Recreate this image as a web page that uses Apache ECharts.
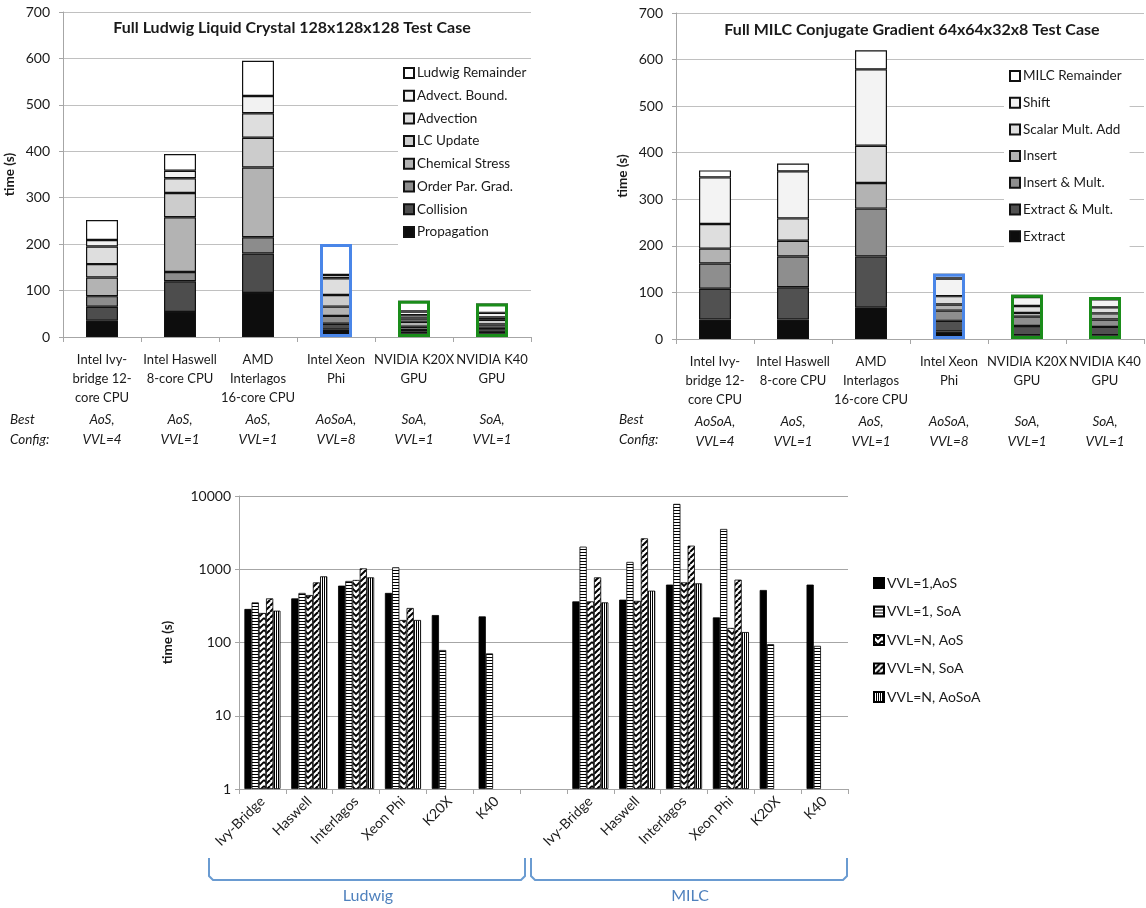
<!DOCTYPE html>
<html><head><meta charset="utf-8">
<script src="https://cdn.jsdelivr.net/npm/echarts/dist/echarts.min.js"></script>
<style>html,body{margin:0;padding:0;background:#fff}#c{width:1146px;height:908px}</style>
</head><body><div id="c"></div>
<script>
// ---------- DATA ----------
const topCategories = ['Intel Ivy-\nbridge 12-\ncore CPU','Intel Haswell\n8-core CPU','AMD\nInterlagos\n16-core CPU','Intel Xeon\nPhi','NVIDIA K20X\nGPU','NVIDIA K40\nGPU'];
const ludwigConfig = ['AoS,\nVVL=4','AoS,\nVVL=1','AoS,\nVVL=1','AoSoA,\nVVL=8','SoA,\nVVL=1','SoA,\nVVL=1'];
const milcConfig = ['AoSoA,\nVVL=4','AoS,\nVVL=1','AoS,\nVVL=1','AoSoA,\nVVL=8','SoA,\nVVL=1','SoA,\nVVL=1'];
const topTicks = [0,100,200,300,400,500,600,700];

// Ludwig components (bottom to top)
const propagation     = [35, 54, 95, 16.5, 8, 8];
const collision       = [30, 66, 85, 12, 7, 6];
const orderParGrad    = [23, 20, 35, 17, 7, 6];
const chemicalStress  = [40, 118, 150, 20, 11, 7];
const lcUpdate        = [29, 52, 64, 25, 7, 10];
const advection       = [38, 32, 53, 36, 7, 5];
const advectBound     = [14, 16, 37, 7, 8, 10];
const ludwigRemainder = [43, 36, 76, 67, 23, 20];

// MILC components (bottom to top)
const extract         = [42, 42, 68, 16, 8, 8];
const extractMult     = [66, 69, 109, 23, 20, 18];
const insertMult      = [54, 66, 103, 22, 20, 16];
const insert          = [32, 34, 55, 13, 8, 13];
const scalarMultAdd   = [53, 48, 80, 18, 15, 13];
const shift           = [100, 101, 164, 38, 19, 17];
const milcRemainder   = [15, 17, 41, 10, 5, 5];

// Bottom log chart
const logCategories = ['Ivy-Bridge','Haswell','Interlagos','Xeon Phi','K20X','K40','','Ivy-Bridge','Haswell','Interlagos','Xeon Phi','K20X','K40'];
const vvl1AoS   = [287, 400, 597, 475, 237, 227, null, 364, 384, 617, 220, 521, 617];
const vvl1SoA   = [353, 475, 692, 1062, 79, 71, null, 2036, 1259, 7800, 3550, 95, 90];
const vvlNAoS   = [253, 445, 714, 203, null, null, null, 364, 370, 662, 158, null, null];
const vvlNSoA   = [400, 662, 1028, 296, null, null, null, 775, 2642, 2100, 721, null, null];
const vvlNAoSoA = [272, 800, 775, 203, null, null, null, 353, 510, 642, 139, null, null];
const logTicks = [1, 10, 100, 1000, 10000];

// ---------- STYLE ----------
const FONT = 'Lato, "Liberation Sans", sans-serif';
const TXT = '#1a1a1a';
const GRID = '#c0c0c0';
const ludwigNames = ['Propagation','Collision','Order Par. Grad.','Chemical Stress','LC Update','Advection','Advect. Bound.','Ludwig Remainder'];
const ludwigSets  = [propagation, collision, orderParGrad, chemicalStress, lcUpdate, advection, advectBound, ludwigRemainder];
const ludwigColors = ['#0d0d0d','#4d4d4d','#8c8c8c','#b3b3b3','#cccccc','#dedede','#f2f2f2','#ffffff'];
const milcNames = ['Extract','Extract & Mult.','Insert & Mult.','Insert','Scalar Mult. Add','Shift','MILC Remainder'];
const milcSets  = [extract, extractMult, insertMult, insert, scalarMultAdd, shift, milcRemainder];
const milcColors = ['#0d0d0d','#515151','#8e8e8e','#b3b3b3','#dedede','#f3f3f3','#ffffff'];
const outlineColors = [null, null, null, '#4a86e8', '#1a8c1a', '#1a8c1a'];
const vvlNames = ['VVL=1,AoS','VVL=1, SoA','VVL=N, AoS','VVL=N, SoA','VVL=N, AoSoA'];
const vvlSets = [vvl1AoS, vvl1SoA, vvlNAoS, vvlNSoA, vvlNAoSoA];

function pattern(w, h, draw) {
  const c = document.createElement('canvas'); c.width = w; c.height = h;
  const g = c.getContext('2d'); g.fillStyle = '#fff'; g.fillRect(0, 0, w, h);
  g.strokeStyle = '#000'; g.fillStyle = '#000'; draw(g);
  return { image: c, repeat: 'repeat' };
}
const patHoriz = pattern(4, 3, g => { g.fillRect(0, 0, 4, 1); });
const patChevron = pattern(8, 6, g => {
  g.lineWidth = 1.8;
  [-6, 0, 6].forEach(o => { g.beginPath(); g.moveTo(0, o); g.lineTo(4, o + 4); g.lineTo(8, o); g.stroke(); });
});
const patDiag = pattern(6, 6, g => {
  g.lineWidth = 2;
  [-6, 0, 6].forEach(o => { g.beginPath(); g.moveTo(o, 6); g.lineTo(o + 6, 0); g.stroke(); });
});
const patVert = pattern(2, 2, g => { g.fillRect(0, 0, 1, 2); });
const vvlFills = ['#000', patHoriz, patChevron, patDiag, patVert];

function sumAt(sets, i) { return sets.reduce((s, a) => s + a[i], 0); }

function valueAxis(gridIndex) {
  return {
    type: 'value', gridIndex, min: 0, max: 700, interval: 100,
    name: 'time (s)', nameLocation: 'middle', nameGap: 46,
    nameTextStyle: { fontFamily: FONT, fontSize: 13.5, fontWeight: 'bold', color: TXT },
    axisLine: { show: true, lineStyle: { color: '#a6a6a6' } },
    axisTick: { show: true, length: 4, lineStyle: { color: '#a6a6a6' } },
    axisLabel: { fontFamily: FONT, fontSize: 14, color: TXT, margin: 13 },
    splitLine: { show: true, lineStyle: { color: GRID, width: 1.2 } }
  };
}
function catAxis(gridIndex, data) {
  return {
    type: 'category', gridIndex, data,
    axisLine: { show: true, lineStyle: { color: '#a6a6a6' } },
    axisTick: { show: true, length: 5, alignWithLabel: false, lineStyle: { color: '#a6a6a6' } },
    axisLabel: { interval: 0, fontFamily: FONT, fontSize: 13, color: TXT, lineHeight: 19, margin: 13 },
    splitLine: { show: false }
  };
}
function cfgAxis(gridIndex, data) {
  return {
    type: 'category', gridIndex, data, position: 'bottom', offset: 63,
    axisLine: { show: false }, axisTick: { show: false }, splitLine: { show: false },
    axisLabel: { interval: 0, fontFamily: FONT, fontSize: 13.5, fontStyle: 'italic', color: TXT, lineHeight: 20, margin: 10 }
  };
}
function stackSeries(names, sets, colors, axisIdx, yIdx, stackId) {
  const out = names.map((n, k) => ({
    type: 'bar', name: n, stack: stackId, xAxisIndex: axisIdx, yAxisIndex: yIdx,
    data: sets[k], barWidth: 32,
    itemStyle: { color: colors[k], borderColor: '#111', borderWidth: 1.2 },
    emphasis: { disabled: true }, silent: true
  }));
  out.push({
    type: 'bar', name: stackId + '-outline', xAxisIndex: axisIdx, yAxisIndex: yIdx,
    barWidth: 32, barGap: '-100%', z: 5,
    data: topCategories.map((c, i) => outlineColors[i] ? { value: sumAt(sets, i), itemStyle: { borderColor: outlineColors[i] } } : null),
    itemStyle: { color: 'rgba(0,0,0,0)', borderWidth: 3 },
    emphasis: { disabled: true }, silent: true
  });
  return out;
}
function legendOf(names, left, top, gap, size) {
  return {
    data: names, orient: 'vertical', left, top, itemGap: gap,
    itemWidth: 10, itemHeight: 10, icon: 'rect', backgroundColor: '#fff',
    padding: [5, 8, 5, 5], selectedMode: false,
    textStyle: { fontFamily: FONT, fontSize: size, color: TXT, lineHeight: 16, padding: [0, 0, 0, -2] }
  };
}

const series = []
  .concat(stackSeries(ludwigNames, ludwigSets, ludwigColors, 0, 0, 'L'))
  .concat(stackSeries(milcNames, milcSets, milcColors, 2, 1, 'M'))
  .concat(vvlNames.map((n, k) => ({
    type: 'bar', name: n, xAxisIndex: 4, yAxisIndex: 2, data: vvlSets[k],
    barGap: '0%', barCategoryGap: '23%',
    itemStyle: { color: vvlFills[k], borderColor: '#000', borderWidth: 0.8 },
    emphasis: { disabled: true }, silent: true
  })));

const bracketStyle = { stroke: '#6a9bd1', lineWidth: 2, fill: null };
const option = {
  animation: false,
  backgroundColor: '#fff',
  grid: [
    { left: 63, right: 615, top: 12, bottom: 571, outerBoundsMode: 'none', containLabel: false },
    { left: 676, right: 2, top: 13, bottom: 569, outerBoundsMode: 'none', containLabel: false },
    { left: 239, right: 298, top: 496, bottom: 119, outerBoundsMode: 'none', containLabel: false }
  ],
  xAxis: [
    catAxis(0, topCategories), cfgAxis(0, ludwigConfig),
    catAxis(1, topCategories), cfgAxis(1, milcConfig),
    {
      type: 'category', gridIndex: 2, data: logCategories,
      axisLine: { show: true, lineStyle: { color: '#a6a6a6' } },
      axisTick: { show: true, length: 5, alignWithLabel: false, lineStyle: { color: '#a6a6a6' } },
      axisLabel: { interval: 0, rotate: 45, fontFamily: FONT, fontSize: 14, color: TXT, margin: 10 },
      splitLine: { show: false }
    }
  ],
  yAxis: [
    valueAxis(0), valueAxis(1),
    {
      type: 'log', gridIndex: 2, logBase: 10, min: logTicks[0], max: logTicks[logTicks.length - 1],
      name: 'time (s)', nameLocation: 'middle', nameGap: 64,
      nameTextStyle: { fontFamily: FONT, fontSize: 13.5, fontWeight: 'bold', color: TXT },
      axisLine: { show: true, lineStyle: { color: '#a6a6a6' } },
      axisTick: { show: true, length: 4, lineStyle: { color: '#a6a6a6' } },
      axisLabel: { fontFamily: FONT, fontSize: 14, color: TXT, margin: 8, formatter: v => String(Math.round(v)) },
      splitLine: { show: true, lineStyle: { color: '#a6a6a6', width: 1.2 } }
    }
  ],
  legend: [
    legendOf(ludwigNames.slice().reverse(), 398, 60, 6.7, 13.5),
    legendOf(milcNames.slice().reverse(), 1004, 63, 10.7, 13.5),
    legendOf(vvlNames, 868, 570, 12.5, 14)
  ],
  graphic: [
    { type: 'text', x: 292, y: 28, style: { text: 'Full Ludwig Liquid Crystal 128x128x128 Test Case', font: 'bold 16px ' + FONT, fill: TXT, textAlign: 'center', textVerticalAlign: 'middle' } },
    { type: 'text', x: 912, y: 30, style: { text: 'Full MILC Conjugate Gradient 64x64x32x8 Test Case', font: 'bold 16px ' + FONT, fill: TXT, textAlign: 'center', textVerticalAlign: 'middle' } },
    { type: 'text', x: 10, y: 410, style: { text: 'Best\nConfig:', font: 'italic 13.5px ' + FONT, fill: TXT, lineHeight: 20 } },
    { type: 'text', x: 619, y: 410, style: { text: 'Best\nConfig:', font: 'italic 13.5px ' + FONT, fill: TXT, lineHeight: 20 } },
    { type: 'polyline', shape: { points: [[209, 858], [209, 876], [213, 880], [521, 880], [525, 876], [525, 858]] }, style: bracketStyle },
    { type: 'polyline', shape: { points: [[531, 858], [531, 876], [535, 880], [843, 880], [847, 876], [847, 858]] }, style: bracketStyle },
    { type: 'text', x: 368, y: 896, style: { text: 'Ludwig', font: '16px ' + FONT, fill: '#4f81bd', textAlign: 'center', textVerticalAlign: 'middle' } },
    { type: 'text', x: 690, y: 896, style: { text: 'MILC', font: '16px ' + FONT, fill: '#4f81bd', textAlign: 'center', textVerticalAlign: 'middle' } }
  ],
  series
};
const chart = echarts.init(document.getElementById('c'), null, { renderer: 'canvas' });
chart.setOption(option);
</script></body></html>
